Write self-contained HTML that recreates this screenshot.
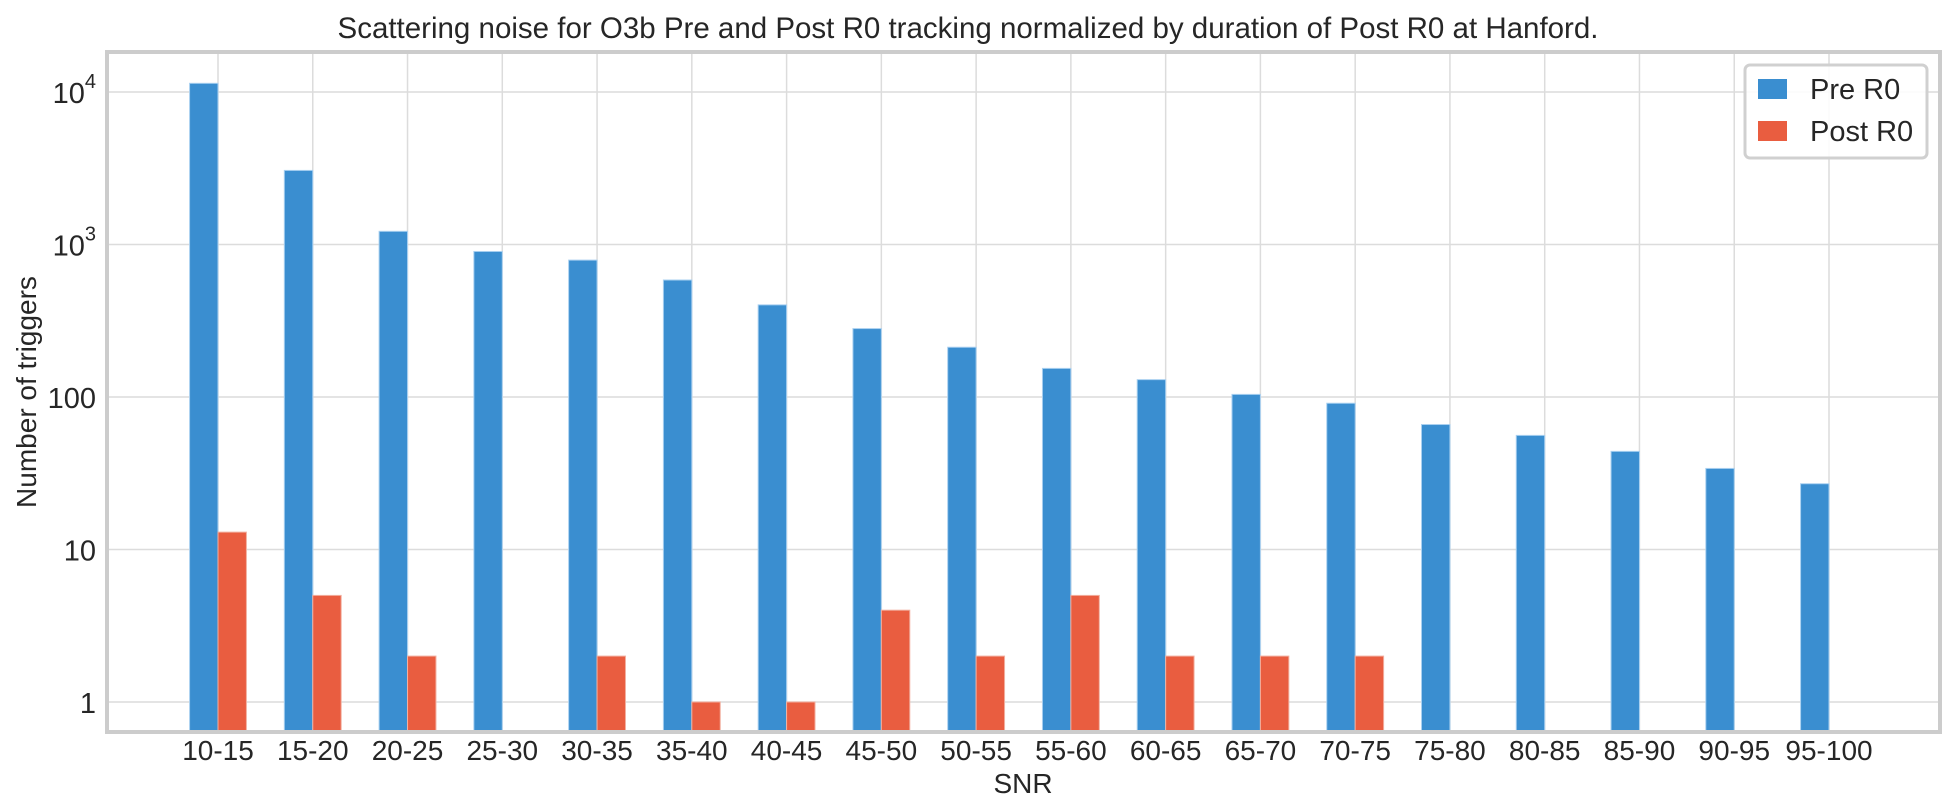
<!DOCTYPE html>
<html><head><meta charset="utf-8"><style>
html,body{margin:0;padding:0;background:#fff;}
svg{display:block;font-family:"Liberation Sans",sans-serif;}
</style></head><body>
<svg id="chart" width="1956" height="806">
<text x="968" y="38" font-size="29.5" text-anchor="middle" fill="#262626">Scattering noise for O3b Pre and Post R0 tracking normalized by duration of Post R0 at Hanford.</text>
<g id="grid"></g>
<g id="bars"></g>
<g id="ticks"></g>
<rect x="107" y="52" width="1833" height="680" fill="none" stroke="#cccccc" stroke-width="4"/>
<text x="1023" y="793" font-size="28" text-anchor="middle" fill="#262626">SNR</text>
<text transform="translate(36,392) rotate(-90)" font-size="28" text-anchor="middle" fill="#262626">Number of triggers</text>
<g>
<rect x="1745" y="65" width="182" height="93" rx="5" fill="#fff" fill-opacity="0.85" stroke="#d0d0d0" stroke-width="3"/>
<rect x="1758" y="79" width="29" height="20" fill="#3a8ed0"/>
<text x="1810" y="99" font-size="29" fill="#262626">Pre R0</text>
<rect x="1758" y="121" width="29" height="20" fill="#e95d40"/>
<text x="1810" y="141" font-size="29" fill="#262626">Post R0</text>
</g>
</svg>
<script>
const categories = ["10-15","15-20","20-25","25-30","30-35","35-40","40-45","45-50","50-55","55-60","60-65","65-70","70-75","75-80","80-85","85-90","90-95","95-100"];
const preR0 = [11400,3060,1220,900,790,585,402,281,212,154,130,104,91,66,56,44,34,27];
const postR0 = [13,5,2,null,2,1,1,4,2,5,2,2,2,null,null,null,null,null];
const yTickValues = [1,10,100,1000,10000];
const yTickLabels = ["1","10","100","10³","10⁴"];

const NS="http://www.w3.org/2000/svg";
const x0=218, step=(1829-218)/17, bw=step*0.3;
function xScale(i){return x0+i*step;}
function yScale(v){return 702-152.5*Math.log10(v);}
const yBottom=732;
function mk(tag,attrs,parent){const e=document.createElementNS(NS,tag);for(const k in attrs)e.setAttribute(k,attrs[k]);parent.appendChild(e);return e;}
const grid=document.getElementById('grid'),bars=document.getElementById('bars'),ticks=document.getElementById('ticks');
yTickValues.forEach((v,i)=>{
  const y=yScale(v);
  const l=mk('line',{x1:107,x2:1940,y1:y,y2:y,stroke:'#dcdcdc','stroke-width':1.5},grid);
  
  
  const lab=yTickLabels[i];
  let t;
  if(v>=1000){
    t=mk('text',{x:96,y:y+11,'font-size':29,'text-anchor':'end',fill:'#262626'},ticks);
    const a=mk('tspan',{},t);a.textContent='10';
    const b=mk('tspan',{dy:-15,'font-size':20},t);b.textContent=lab==="10³"?"3":"4";
  } else {
    t=mk('text',{x:96,y:y+11,'font-size':29,'text-anchor':'end',fill:'#262626'},ticks);
    t.textContent=lab;
  }
  
  
});
categories.forEach((c,i)=>{
  const x=xScale(i);
  const l=mk('line',{x1:x,x2:x,y1:52,y2:732,stroke:'#dcdcdc','stroke-width':1.5},grid);
  
  
  const t=mk('text',{x:x,y:760,'font-size':28,'text-anchor':'middle',fill:'#262626'},ticks);
  t.textContent=c;
  
  
  if(preR0[i]!=null){
    const y=yScale(preR0[i]);
    const r=mk('rect',{x:x-bw,y:y,width:bw,height:yBottom-y,fill:'#3a8ed0',stroke:'#a9d0f0','stroke-width':1},bars);
    
    
  }
  if(postR0[i]!=null){
    const y=yScale(postR0[i]);
    const r=mk('rect',{x:x,y:y,width:bw,height:yBottom-y,fill:'#e95d40',stroke:'#f2b0a0','stroke-width':1},bars);
    
    
  }
});
</script>
</body></html>
